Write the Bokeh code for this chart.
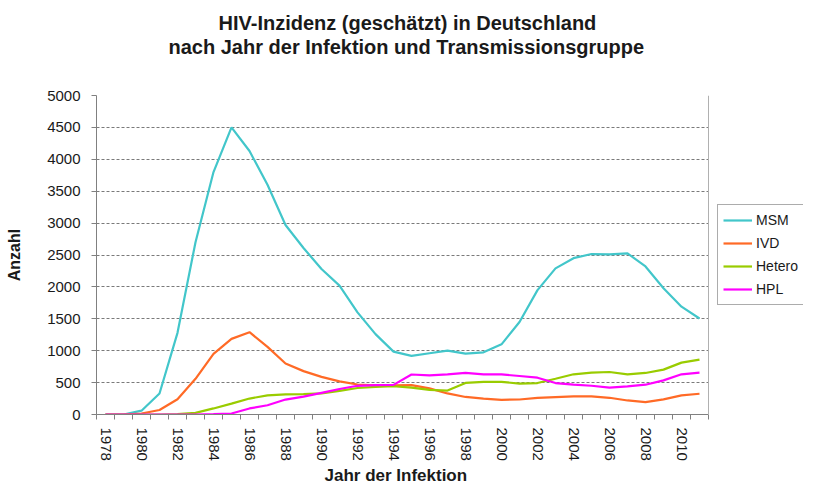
from bokeh.plotting import figure
from bokeh.models import (Range1d, FixedTicker, Legend, LegendItem, Title, Span,
                          BoxAnnotation)
from bokeh.embed import file_html
from bokeh.resources import INLINE

years = list(range(1978, 2012))
msm = [0, 0, 60, 330, 1280, 2700, 3800, 4500, 4130, 3600, 2970, 2610, 2280, 2020,
       1600, 1260, 985, 920, 960, 1000, 955, 975, 1100, 1450, 1950, 2290, 2450,
       2515, 2510, 2525, 2320, 1980, 1690, 1505]
ivd = [0, 0, 15, 70, 240, 560, 950, 1185, 1290, 1060, 800, 680, 590, 520, 470,
       455, 455, 460, 410, 330, 275, 250, 230, 235, 262, 273, 283, 283, 262, 220,
       195, 236, 300, 325]
hetero = [0, 0, 0, 0, 5, 25, 95, 170, 250, 300, 315, 320, 330, 370, 415, 432,
          443, 420, 385, 375, 495, 510, 512, 483, 493, 560, 630, 656, 666, 630,
          651, 703, 813, 860]
hpl = [0, 0, 0, 0, 0, 0, 5, 15, 95, 145, 234, 280, 340, 400, 450, 460, 465, 627,
       612, 628, 651, 630, 628, 603, 577, 493, 467, 451, 420, 440, 467, 535, 630, 656]

series_names = ["MSM", "IVD", "Hetero", "HPL"]
series_colors = ["#42C6CA", "#FF6A26", "#99CC00", "#FF00FF"]
y_ticks = list(range(0, 5001, 500))
x_label_years = list(range(1978, 2011, 2))

title_1 = "HIV-Inzidenz (geschätzt) in Deutschland"
title_2 = "nach Jahr der Infektion und Transmissionsgruppe"
x_title = "Jahr der Infektion"
y_title = "Anzahl"

FONT = "Liberation Sans"

X_START, X_END = years[0] - 0.5, years[-1] + 0.5
# plot area spans 18 px per year; extra room on the right holds the legend
X_VIEW_END = X_START + 707 / 18.0

p = figure(width=803, height=485, output_backend="svg", toolbar_location=None,
           x_range=Range1d(X_START, X_VIEW_END), y_range=Range1d(0, 5000),
           min_border_left=96, min_border_right=0, min_border_top=95,
           min_border_bottom=71)

# titles: added panels stack outward from the plot (first added = nearest)
p.title.text = ""
spacer = Title(text=" ", text_font_size="1px", standoff=35)
t2 = Title(text=title_2, align="left", offset=72, text_font=FONT,
           text_font_size="20px", text_font_style="bold", text_color="#1a1a1a",
           standoff=0)
t1 = Title(text=title_1, align="left", offset=122, text_font=FONT,
           text_font_size="20px", text_font_style="bold", text_color="#1a1a1a",
           standoff=0)
p.add_layout(spacer, "above")
p.add_layout(t2, "above")
p.add_layout(t1, "above")

p.outline_line_color = None
p.background_fill_color = "white"
p.border_fill_color = "white"

# grid
p.xgrid.grid_line_color = None
p.ygrid.grid_line_color = "#7a7a7a"
p.ygrid.grid_line_dash = "3 2"
p.ygrid.grid_line_width = 1

# y axis
p.yaxis.ticker = FixedTicker(ticks=y_ticks)
p.yaxis.axis_label = y_title
p.yaxis.axis_label_text_font = FONT
p.yaxis.axis_label_text_font_size = "16px"
p.yaxis.axis_label_text_font_style = "bold"
p.yaxis.axis_label_text_color = "#1a1a1a"
p.yaxis.axis_label_standoff = 21
p.yaxis.major_label_text_font = FONT
p.yaxis.major_label_text_font_size = "15px"
p.yaxis.major_label_text_color = "#1a1a1a"
p.yaxis.major_label_standoff = 11
p.yaxis.axis_line_color = "#808080"
p.yaxis.major_tick_line_color = "#808080"
p.yaxis.major_tick_out = 5
p.yaxis.major_tick_in = 0
p.yaxis.minor_tick_line_color = None

# x axis
p.xaxis.bounds = (X_START, X_END)
p.xaxis.ticker = FixedTicker(ticks=years, minor_ticks=[y - 0.5 for y in years] + [X_END])
p.xaxis.major_label_overrides = {y: (str(y) if y in x_label_years else "") for y in years}
p.xaxis.major_label_orientation = "vertical"
p.xaxis.major_label_text_font = FONT
p.xaxis.major_label_text_font_size = "15px"
p.xaxis.major_label_text_color = "#1a1a1a"
p.xaxis.major_label_standoff = 8
p.xaxis.major_tick_line_color = None
p.xaxis.major_tick_out = 0
p.xaxis.major_tick_in = 0
p.xaxis.minor_tick_line_color = "#808080"
p.xaxis.minor_tick_out = 5
p.xaxis.minor_tick_in = 0
p.xaxis.axis_line_color = "#808080"

# x axis title, placed under the year labels, centred under the plot area
xt = Title(text=x_title, align="left", offset=228, text_font=FONT,
           text_font_size="17px", text_font_style="bold", text_color="#1a1a1a",
           standoff=1)
p.add_layout(xt, "below")

items = []
for name, vals, col in zip(series_names, [msm, ivd, hetero, hpl], series_colors):
    r = p.line(years, vals, line_color=col, line_width=2.2)
    items.append(LegendItem(label=name, renderers=[r]))

# blank out the area right of the plot area, draw its right border
p.add_layout(BoxAnnotation(left=X_END, fill_color="white", fill_alpha=1.0,
                           line_color=None))
p.add_layout(Span(location=X_END, dimension="height", line_color="#b0b0b0",
                  line_width=1))

legend = Legend(items=items, location=(621, 109), orientation="vertical",
                label_text_font=FONT, label_text_font_size="14px",
                label_text_color="#1a1a1a", glyph_width=29, glyph_height=20,
                label_height=20, label_standoff=4, padding=5, spacing=3, margin=0,
                border_line_color="#5a5a5a", border_line_width=1,
                background_fill_color="white", background_fill_alpha=1)
p.add_layout(legend)

open("out.html", "w").write(file_html(p, INLINE))
